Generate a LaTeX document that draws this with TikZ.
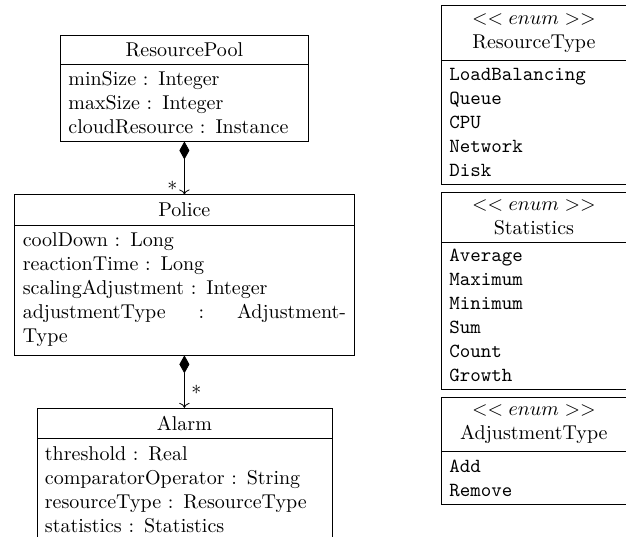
\documentclass[tikz,border=0pt]{standalone}
\usetikzlibrary{shapes.multipart, arrows.meta, positioning}
\begin{document}
\begin{tikzpicture}[
    umlclass/.style={draw, rectangle split, rectangle split parts=2, inner xsep=4pt, inner ysep=3.8pt},
    umlenum/.style={umlclass, text width=84.5pt},
    composition/.style={{Diamond[length=9pt, width=5pt]}-{To}},
  ]
        \def \umltitle #1{\makebox[\linewidth]{#1}}
        \def \stereo {\umltitle{$<<enum>>$}\\}

        \useasboundingbox (0,0) rectangle (313pt,268pt);

        % classes
        \node[umlclass, inner ysep=3.4pt, text width=116pt, anchor=north] (pool) at (92.2pt,250.5pt) {\umltitle{ResourcePool}
          \nodepart{second} minSize : Integer\\ maxSize : Integer\\ cloudResource : Instance};
        \node[umlclass, text width=161.6pt, below=26.5pt of pool] (police) {\umltitle{Police}
          \nodepart{second} coolDown : Long\\ reactionTime : Long\\ scalingAdjustment : Integer\\
          adjustmentType\hfill:\hfill Adjustment-\\ Type};
        \node[umlclass, text width=139.5pt, below=26.25pt of police] (alarm) {\umltitle{Alarm}
          \nodepart{second} threshold : Real\\ comparatorOperator : String\\
          resourceType : ResourceType\\ statistics : Statistics};

        % enumerations
        \node[umlenum, anchor=north west] (restype) at (220.5pt,265.5pt) {\stereo \umltitle{ResourceType}
          \nodepart{second}\ttfamily LoadBalancing\\ Queue\\ CPU\\ Network\\ Disk};
        \node[umlenum, inner ysep=3.4pt, below=3.5pt of restype] (stats) {\stereo \umltitle{Statistics}
          \nodepart{second}\ttfamily Average\\ Maximum\\ Minimum\\ Sum\\ Count\\ Growth};
        \node[umlenum, below=3.5pt of stats] (adjtype) {\stereo \umltitle{AdjustmentType}
          \nodepart{second}\ttfamily Add\\ Remove};

        \draw[composition] (pool) -- node[pos=0.83, left] {$*$} (police);
        \draw[composition] (police) -- node[pos=0.65, right] {$*$} (alarm);
\end{tikzpicture}
\end{document}
